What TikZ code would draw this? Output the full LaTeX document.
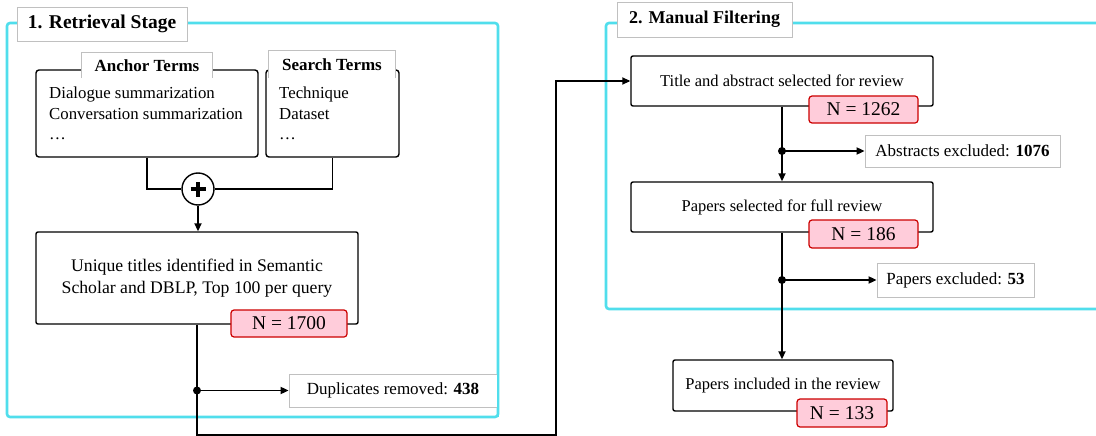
\documentclass[tikz,border=0pt]{standalone}
\usepackage{fontspec}
\setmainfont{Liberation Serif}
\usetikzlibrary{arrows.meta}
\definecolor{stagecyan}{RGB}{80,222,236}
\definecolor{npink}{RGB}{255,204,218}
\definecolor{nred}{RGB}{204,0,0}
\definecolor{lgray}{RGB}{192,192,192}
\begin{document}
\begin{tikzpicture}[x=1pt,y=-1pt,
  stage/.style={draw=stagecyan,line width=2.6pt,rounded corners=3pt},
  stagetitle/.style={draw=lgray,line width=0.8pt,fill=white,font=\fontsize{19.5}{21}\selectfont\bfseries,inner sep=0pt},
  termbox/.style={draw=black,line width=1.4pt,rounded corners=3pt,inner sep=0pt},
  termlabel/.style={fill=white,inner sep=0pt,font=\fontsize{17}{19}\selectfont\bfseries},
  termtext/.style={anchor=north west,align=left,inner sep=0pt,font=\fontsize{16.8}{20.5}\selectfont},
  stepbox/.style={draw=black,line width=1.4pt,rounded corners=2pt,inner sep=0pt,align=center,font=\fontsize{16.5}{21}\selectfont},
  nbox/.style={draw=nred,line width=1.2pt,fill=npink,rounded corners=3pt,inner sep=0pt,font=\fontsize{19.5}{21}\selectfont},
  exbox/.style={draw=lgray,line width=0.8pt,fill=white,inner sep=0pt,font=\fontsize{17}{19}\selectfont},
  conn/.style={line width=1.8pt},
  arr/.style={conn,-{Triangle[length=8pt,width=7pt]}},
  dot/.style={circle,fill=black,inner sep=0pt,minimum size=8pt}
]
\useasboundingbox (0,0) rectangle (1096,436);
\begin{scope}
\clip (0,0) rectangle (1096,436);
% stage frames
\draw[stage] (7,23) rectangle (498,417);
\draw[stage] (606,23) rectangle (1120,309);
\node[stagetitle,minimum width=170pt,minimum height=34pt] (t1) at (102,24) {1. Retrieval Stage};
\node[stagetitle,minimum width=175pt,minimum height=35pt,font=\fontsize{18}{20}\selectfont\bfseries] (t2) at (704.5,19.5) {2. Manual Filtering};

% term boxes
\node[termbox,minimum width=222pt,minimum height=87pt] (anchor) at (147,113.5) {};
\node[termbox,minimum width=133pt,minimum height=87pt] (search) at (332.5,113.5) {};
\node[termlabel,minimum width=130pt,minimum height=25pt] (alab) at (147,65.5) {Anchor Terms};
\draw[lgray,line width=0.8pt] (alab.south west) -- (alab.north west) -- (alab.north east) -- (alab.south east);
\node[termlabel,minimum width=126pt,minimum height=27pt] (slab) at (332,64.5) {Search Terms};
\draw[lgray,line width=0.8pt] (slab.south west) -- (slab.north west) -- (slab.north east) -- (slab.south east);
\node[termtext] (atext) at (49,87) {Dialogue summarization\\Conversation summarization\\\dots};
\node[termtext] (stext) at (279,87) {Technique\\Dataset\\\dots};

% plus
\node[circle,draw=black,line width=1.4pt,fill=white,minimum size=32pt,inner sep=0pt] (plus) at (198,189) {};
\draw[conn] (anchor.south) |- (plus.west);
\draw[conn] (search.south) |- (plus.east);
\draw[line width=3.6pt] ([xshift=-7.5pt]plus.center) -- ([xshift=7.5pt]plus.center);
\draw[line width=3.6pt] ([yshift=-7.5pt]plus.center) -- ([yshift=7.5pt]plus.center);

% unique box
\node[stepbox,minimum width=322pt,minimum height=92pt,font=\fontsize{17.7}{21.5}\selectfont] (unique) at (197,278) {Unique titles identified in Semantic\\Scholar and DBLP, Top 100 per query};
\draw[arr] (plus.south) -- (plus.south |- unique.north);
\node[nbox,minimum width=116pt,minimum height=27pt] (n1700) at (289,323.5) {N = 1700};

% duplicates
\node[exbox,minimum width=208pt,minimum height=33pt] (dup) at (393,390.5) {Duplicates removed: \textbf{438}};
\draw[stage] (498,360) -- (498,417);
\coordinate (c1) at (197,435);
\coordinate (c2) at (556,435);
\node[dot] (d1) at (197,390.5) {};

% stage 2 boxes
\node[stepbox,minimum width=302pt,minimum height=50pt] (ta) at (782,81) {Title and abstract selected for review};
\node[nbox,minimum width=109pt,minimum height=27pt] (n1262) at (863.5,109.5) {N = 1262};
\draw[conn] (unique.south -| d1) -- (c1) -- (c2) |- ([xshift=-1pt]ta.west);
\draw[arr] (c2 |- ta.west) -- (ta.west);
\draw[arr] (d1.center) -- (dup.west);

\node[exbox,minimum width=195pt,minimum height=32pt] (abex) at (962.5,151) {Abstracts excluded: \textbf{1076}};
\node[stepbox,minimum width=302pt,minimum height=50pt] (psel) at (782,207) {Papers selected for full review};
\node[nbox,minimum width=109pt,minimum height=28pt] (n186) at (863.5,234) {N = 186};
\node[dot] (d2) at (782,151) {};
\draw[conn] (ta.south) -- (d2.center);
\draw[arr] (d2.center) -- (psel.north);
\draw[arr] (d2.center) -- (abex.west);

\node[exbox,minimum width=157pt,minimum height=34pt] (pex) at (955.5,280) {Papers excluded: \textbf{53}};
\node[stepbox,minimum width=220pt,minimum height=51pt] (pinc) at (783,385.5) {Papers included in the review};
\node[nbox,minimum width=90pt,minimum height=28pt] (n133) at (842,413) {N = 133};
\node[dot] (d3) at (782,280) {};
\draw[conn] (psel.south) -- (d3.center);
\draw[arr] (d3.center) -- (d3.center |- pinc.north);
\draw[arr] (d3.center) -- (pex.west);
\end{scope}
\end{tikzpicture}
\end{document}
